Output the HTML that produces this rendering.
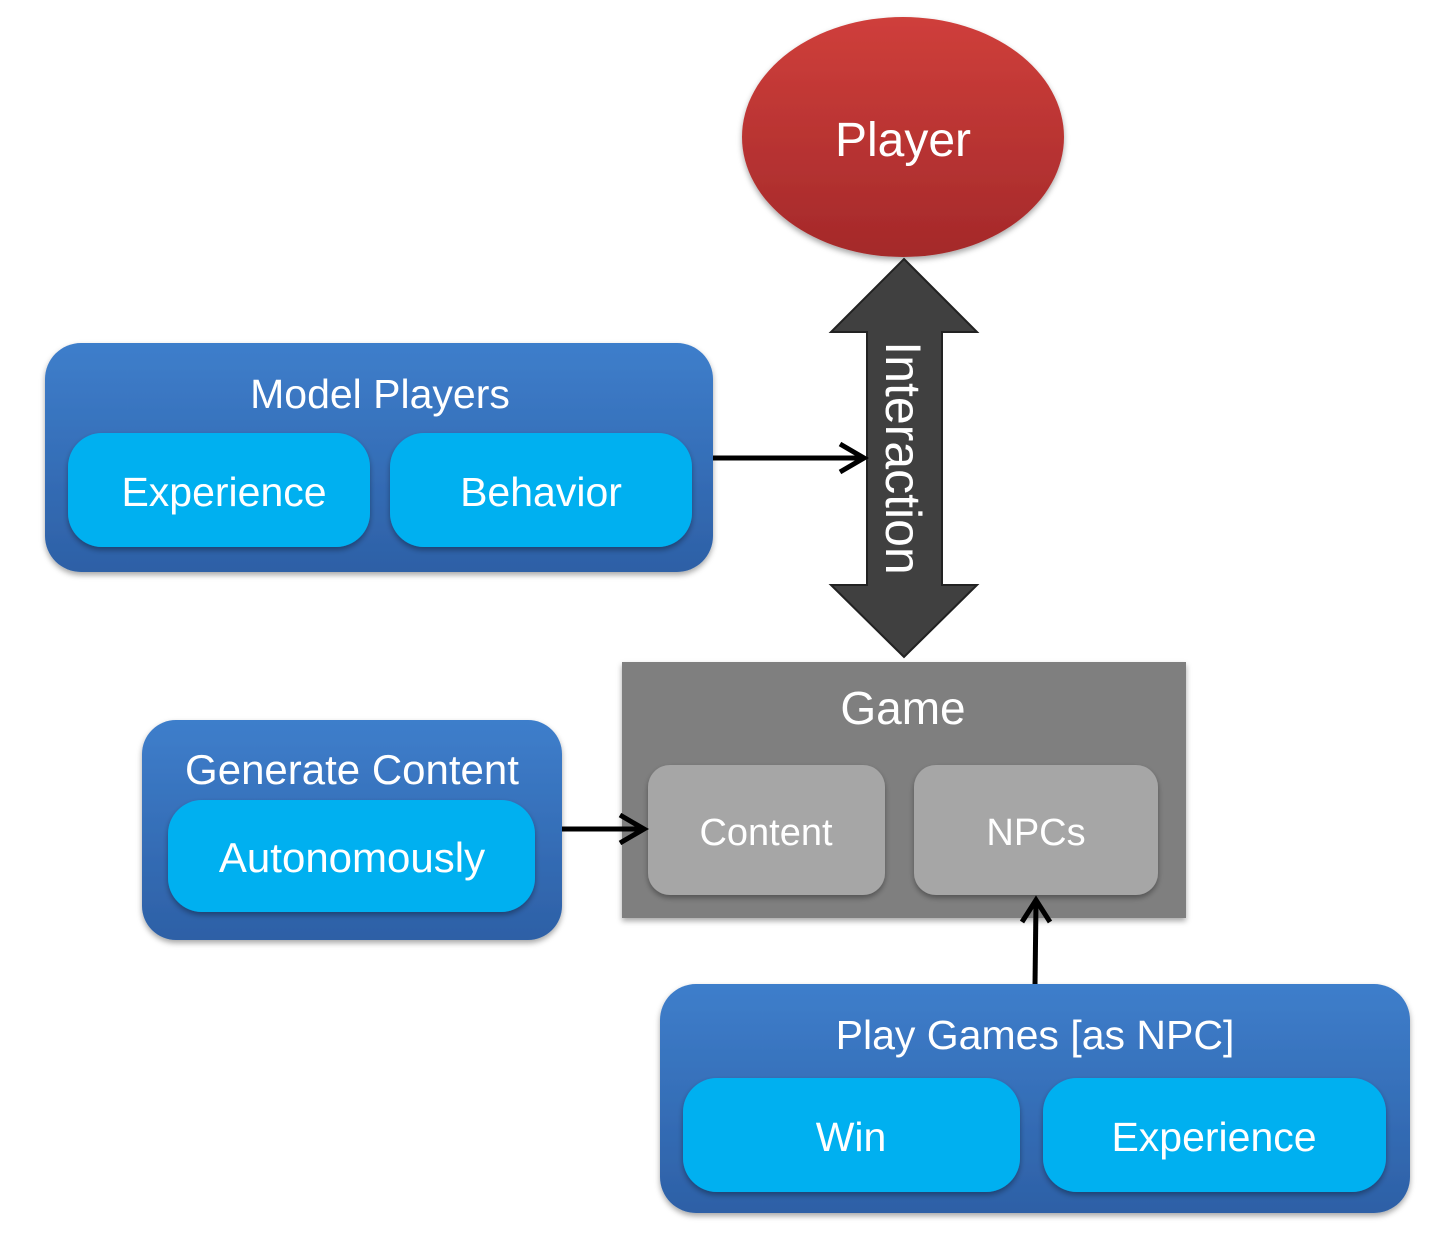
<!DOCTYPE html>
<html><head><style>
body{margin:0;background:#fff;}
svg text{font-family:"Liberation Sans",sans-serif;fill:#fff;text-anchor:middle;}
</style></head><body>
<svg width="1442" height="1246" viewBox="0 0 1442 1246" xmlns="http://www.w3.org/2000/svg">
<defs>
<linearGradient id="bl" x1="0" y1="0" x2="0" y2="1"><stop offset="0" stop-color="#3e7ecb"/><stop offset="1" stop-color="#2d60a6"/></linearGradient>
<linearGradient id="rd" x1="0" y1="0" x2="0" y2="1"><stop offset="0" stop-color="#cf3f3b"/><stop offset="1" stop-color="#a4292a"/></linearGradient>
<filter id="sh" x="-10%" y="-10%" width="120%" height="130%"><feDropShadow dx="0" dy="3" stdDeviation="3" flood-color="#000" flood-opacity="0.35"/></filter>
</defs>
<!-- Player -->
<ellipse cx="903" cy="137" rx="161" ry="120" fill="url(#rd)" filter="url(#sh)"/>
<text x="903" y="156" font-size="48">Player</text>
<!-- Interaction arrow -->
<polygon points="904,259 977,332 942,332 942,585 977,585 904,657 831,585 867,585 867,332 831,332" fill="#404040" stroke="#222" stroke-width="2"/>
<text transform="translate(886,458) rotate(90)" font-size="50" style="fill:#fff">Interaction</text>
<!-- Model Players -->
<rect x="45" y="343" width="668" height="229" rx="36" fill="url(#bl)" filter="url(#sh)"/>
<text x="380" y="408" font-size="41">Model Players</text>
<rect x="68" y="433" width="302" height="114" rx="34" fill="#00b0f0" filter="url(#sh)"/>
<text x="224" y="506" font-size="41">Experience</text>
<rect x="390" y="433" width="302" height="114" rx="34" fill="#00b0f0" filter="url(#sh)"/>
<text x="541" y="506" font-size="41">Behavior</text>
<line x1="713" y1="458" x2="862" y2="458" stroke="#000" stroke-width="5"/>
<polyline points="840,444 864,458 840,472" fill="none" stroke="#000" stroke-width="5"/>
<!-- Game -->
<rect x="622" y="662" width="564" height="256" fill="#7f7f7f" filter="url(#sh)"/>
<text x="903" y="724" font-size="46">Game</text>
<rect x="648" y="765" width="237" height="130" rx="22" fill="#a6a6a6" filter="url(#sh)"/>
<text x="766" y="845" font-size="38">Content</text>
<rect x="914" y="765" width="244" height="130" rx="22" fill="#a6a6a6" filter="url(#sh)"/>
<text x="1036" y="845" font-size="38">NPCs</text>
<!-- Generate Content -->
<rect x="142" y="720" width="420" height="220" rx="34" fill="url(#bl)" filter="url(#sh)"/>
<text x="352" y="784" font-size="42">Generate Content</text>
<rect x="168" y="800" width="367" height="112" rx="34" fill="#00b0f0" filter="url(#sh)"/>
<text x="352" y="872" font-size="42">Autonomously</text>
<line x1="562" y1="829" x2="642" y2="829" stroke="#000" stroke-width="5"/>
<polyline points="620,815 644,829 620,843" fill="none" stroke="#000" stroke-width="5"/>
<line x1="1035" y1="985" x2="1036" y2="902" stroke="#000" stroke-width="5"/>
<polyline points="1022,922 1036,900 1050,922" fill="none" stroke="#000" stroke-width="5"/>
<!-- Play Games -->
<rect x="660" y="984" width="750" height="229" rx="36" fill="url(#bl)" filter="url(#sh)"/>
<text x="1035" y="1049" font-size="41">Play Games [as NPC]</text>
<rect x="683" y="1078" width="337" height="114" rx="34" fill="#00b0f0" filter="url(#sh)"/>
<text x="851" y="1151" font-size="41">Win</text>
<rect x="1043" y="1078" width="343" height="114" rx="34" fill="#00b0f0" filter="url(#sh)"/>
<text x="1214" y="1151" font-size="41">Experience</text>
</svg>
</body></html>
